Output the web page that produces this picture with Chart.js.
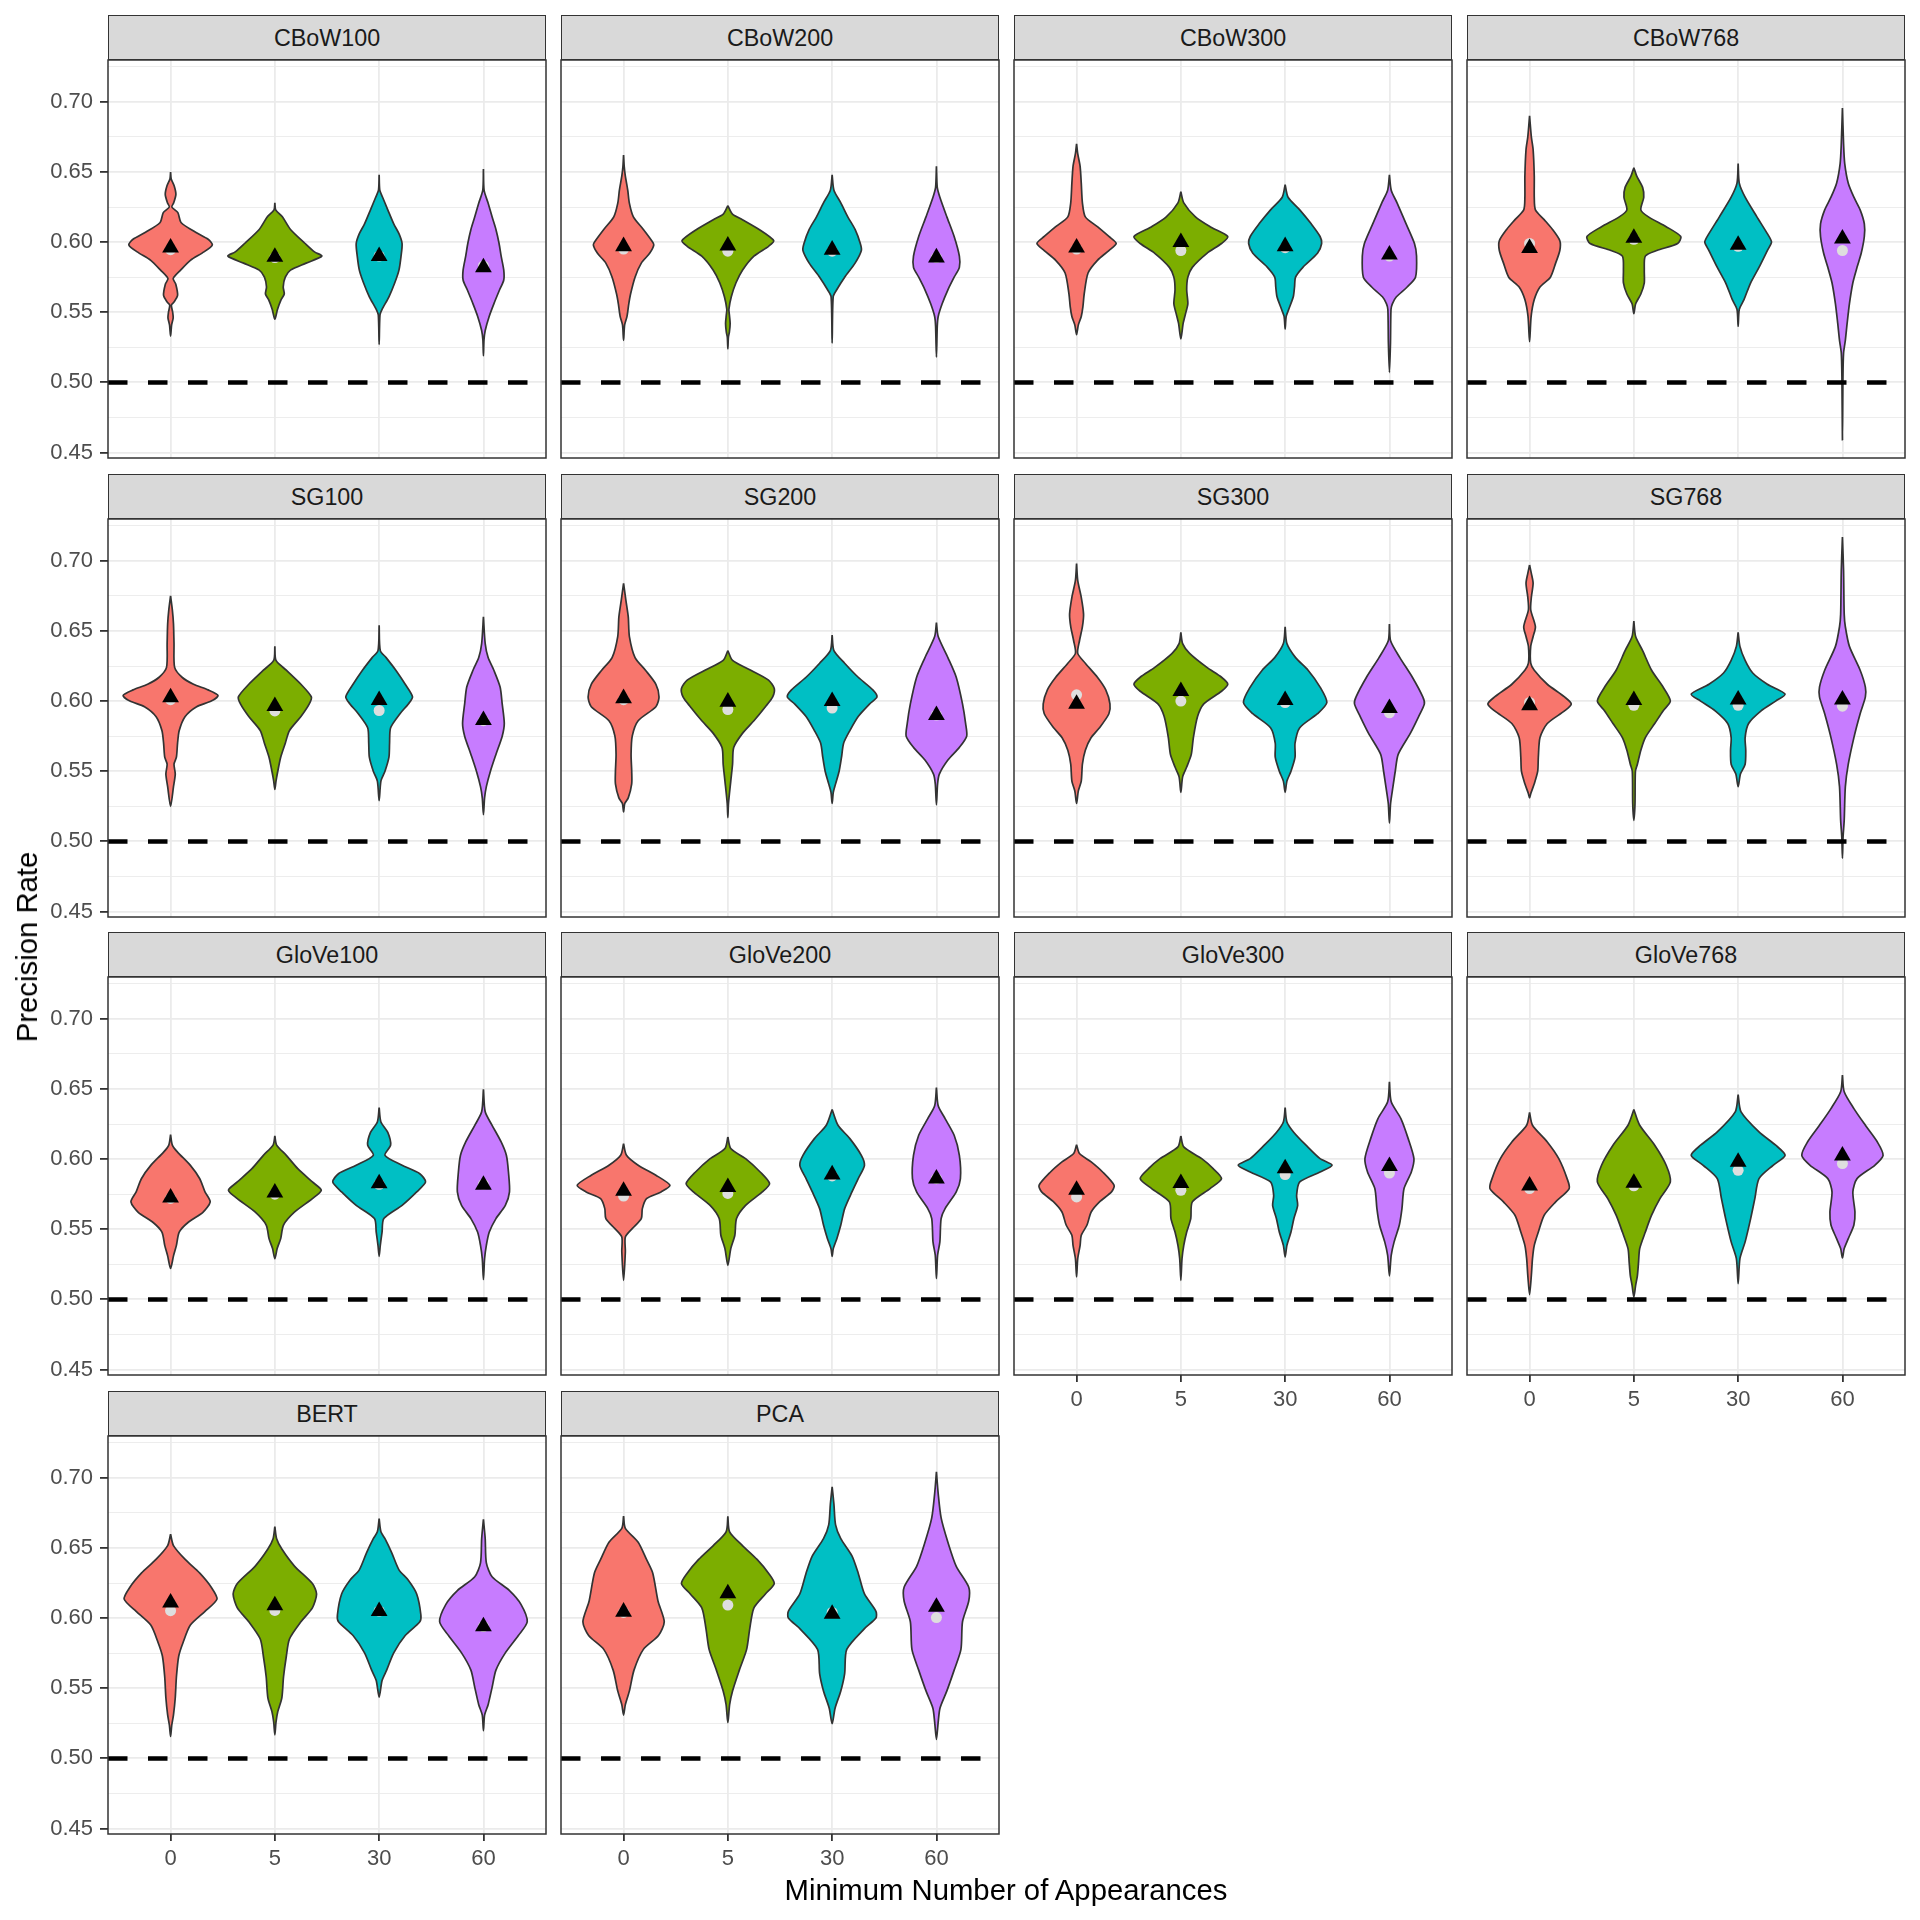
<!DOCTYPE html>
<html>
<head>
<meta charset="utf-8">
<script src="https://cdn.jsdelivr.net/npm/chart.js@4.4.1/dist/chart.umd.min.js"></script>
<style>
html, body { margin: 0; padding: 0; background: #fff; }
#page { position: relative; width: 1920px; height: 1920px; overflow: hidden; font-family: "Liberation Sans", Arial, sans-serif; }
#page canvas { position: absolute; }
.strip { position: absolute; box-sizing: border-box; background: #D9D9D9; border: 1.5px solid #333; color: #1A1A1A;
  font-size: 23.3px; display: flex; align-items: center; justify-content: center; padding-top: 2px; }
.axis-title { position: absolute; color: #000; font-size: 29.3px; white-space: nowrap; transform: translate(-50%, -50%); }
</style>
</head>
<body>
<div id="page"></div>
<script>
const panelNames = ["CBoW100", "CBoW200", "CBoW300", "CBoW768", "SG100", "SG200", "SG300", "SG768",
    "GloVe100", "GloVe200", "GloVe300", "GloVe768", "BERT", "PCA"];
const xLabels = ["0", "5", "30", "60"];
const yMajor = [0.45, 0.50, 0.55, 0.60, 0.65, 0.70];
const yMinor = [0.475, 0.525, 0.575, 0.625, 0.675, 0.725];
const yRange = [0.4461, 0.7298];
const chanceLine = 0.5;

// mean (triangle) and median (grey dot) per panel, categories 0/5/30/60
const meanRate = [
    [0.596, 0.5895, 0.590, 0.582], [0.597, 0.5975, 0.5945, 0.589], [0.596, 0.600, 0.597, 0.591], [0.5957, 0.603, 0.598, 0.6024],
    [0.6026, 0.5964, 0.6007, 0.5864], [0.602, 0.5995, 0.600, 0.590], [0.598, 0.607, 0.6007, 0.595], [0.597, 0.6007, 0.601, 0.601],
    [0.5725, 0.576, 0.5827, 0.5816], [0.5773, 0.580, 0.589, 0.586], [0.578, 0.5828, 0.5934, 0.595], [0.581, 0.583, 0.598, 0.6025],
    [0.611, 0.609, 0.605, 0.594], [0.6045, 0.6176, 0.603, 0.608]
];
const medianRate = [
    [0.5946, 0.589, 0.590, 0.583], [0.595, 0.5935, 0.5935, 0.589], [0.595, 0.594, 0.596, 0.590], [0.599, 0.602, 0.597, 0.594],
    [0.601, 0.593, 0.5933, 0.586], [0.601, 0.594, 0.595, 0.590], [0.6045, 0.600, 0.599, 0.5917], [0.599, 0.597, 0.597, 0.5964],
    [0.572, 0.575, 0.582, 0.582], [0.5737, 0.5755, 0.588, 0.586], [0.573, 0.5778, 0.589, 0.590], [0.579, 0.581, 0.592, 0.5968],
    [0.6053, 0.6055, 0.605, 0.594], [0.604, 0.6093, 0.604, 0.6004]
];

// violin outlines: [precision rate, half width] from top tip to bottom tip
const shapeCBoW100 = [
    [[0.650,0],[0.645,0.006],[0.640,0.035],[0.634,0.051],[0.628,0.03],[0.625,0.012],[0.621,0.07],[0.614,0.10],[0.607,0.24],[0.602,0.36],[0.598,0.40],[0.593,0.32],[0.587,0.19],[0.580,0.096],[0.574,0.025],[0.570,0.05],[0.562,0.067],[0.557,0.03],[0.555,0.008],[0.550,0.02],[0.546,0.025],[0.541,0.01],[0.533,0]],
    [[0.628,0],[0.623,0.008],[0.618,0.072],[0.609,0.15],[0.599,0.29],[0.593,0.38],[0.590,0.45],[0.585,0.30],[0.580,0.15],[0.575,0.10],[0.568,0.08],[0.563,0.09],[0.559,0.06],[0.552,0.025],[0.545,0]],
    [[0.648,0],[0.637,0.006],[0.632,0.033],[0.623,0.083],[0.613,0.14],[0.606,0.19],[0.599,0.22],[0.590,0.21],[0.580,0.19],[0.571,0.15],[0.561,0.094],[0.552,0.028],[0.548,0.008],[0.527,0]],
    [[0.652,0],[0.637,0.006],[0.628,0.044],[0.618,0.083],[0.609,0.12],[0.599,0.15],[0.590,0.17],[0.580,0.195],[0.573,0.195],[0.566,0.155],[0.556,0.10],[0.547,0.055],[0.537,0.017],[0.530,0.005],[0.519,0]]
];
const shapeCBoW200 = [
    [[0.662,0],[0.654,0.006],[0.647,0.017],[0.637,0.04],[0.628,0.055],[0.618,0.094],[0.609,0.19],[0.601,0.27],[0.598,0.29],[0.592,0.25],[0.585,0.17],[0.575,0.11],[0.563,0.067],[0.556,0.05],[0.547,0.033],[0.541,0.01],[0.530,0]],
    [[0.626,0],[0.620,0.044],[0.616,0.14],[0.609,0.30],[0.601,0.44],[0.597,0.39],[0.590,0.25],[0.580,0.14],[0.571,0.078],[0.561,0.033],[0.552,0.01],[0.548,0.015],[0.542,0.022],[0.536,0.015],[0.532,0.005],[0.524,0]],
    [[0.648,0],[0.637,0.017],[0.628,0.083],[0.618,0.15],[0.609,0.22],[0.599,0.27],[0.594,0.28],[0.585,0.22],[0.575,0.12],[0.566,0.044],[0.561,0.01],[0.528,0]],
    [[0.654,0],[0.639,0.008],[0.632,0.033],[0.618,0.10],[0.604,0.17],[0.590,0.22],[0.582,0.22],[0.575,0.17],[0.566,0.11],[0.556,0.055],[0.547,0.017],[0.540,0.008],[0.518,0]]
];
const shapeCBoW300 = [
    [[0.670,0],[0.663,0.011],[0.654,0.034],[0.642,0.045],[0.628,0.056],[0.618,0.084],[0.611,0.20],[0.604,0.31],[0.599,0.38],[0.594,0.31],[0.587,0.20],[0.578,0.11],[0.563,0.073],[0.554,0.061],[0.547,0.045],[0.541,0.017],[0.534,0]],
    [[0.636,0],[0.628,0.028],[0.618,0.14],[0.611,0.28],[0.604,0.45],[0.599,0.39],[0.592,0.25],[0.582,0.11],[0.575,0.067],[0.566,0.056],[0.556,0.067],[0.549,0.045],[0.542,0.022],[0.531,0]],
    [[0.641,0],[0.632,0.028],[0.623,0.14],[0.613,0.25],[0.604,0.335],[0.599,0.35],[0.592,0.31],[0.582,0.17],[0.575,0.10],[0.568,0.09],[0.561,0.078],[0.552,0.034],[0.547,0.01],[0.538,0]],
    [[0.648,0],[0.637,0.017],[0.628,0.073],[0.613,0.16],[0.599,0.24],[0.590,0.26],[0.575,0.25],[0.568,0.17],[0.561,0.067],[0.556,0.028],[0.552,0.015],[0.528,0.01],[0.507,0]]
];
const shapeCBoW768 = [
    [[0.690,0],[0.675,0.017],[0.666,0.034],[0.647,0.045],[0.632,0.045],[0.623,0.056],[0.616,0.14],[0.609,0.22],[0.601,0.29],[0.594,0.29],[0.585,0.25],[0.575,0.20],[0.568,0.10],[0.559,0.045],[0.547,0.015],[0.529,0]],
    [[0.653,0],[0.647,0.028],[0.639,0.084],[0.632,0.095],[0.623,0.067],[0.618,0.14],[0.611,0.31],[0.604,0.45],[0.599,0.42],[0.594,0.22],[0.590,0.11],[0.580,0.10],[0.571,0.10],[0.563,0.067],[0.556,0.017],[0.549,0]],
    [[0.656,0],[0.642,0.011],[0.632,0.067],[0.618,0.18],[0.606,0.28],[0.600,0.32],[0.594,0.28],[0.582,0.20],[0.571,0.12],[0.559,0.056],[0.552,0.011],[0.540,0]],
    [[0.6955,0],[0.670,0.011],[0.656,0.022],[0.642,0.056],[0.632,0.11],[0.623,0.17],[0.613,0.21],[0.604,0.21],[0.592,0.18],[0.582,0.14],[0.571,0.10],[0.556,0.067],[0.542,0.045],[0.530,0.028],[0.521,0.011],[0.504,0.005],[0.459,0]]
];
const shapeSG100 = [
    [[0.675,0],[0.665,0.017],[0.655,0.028],[0.641,0.033],[0.624,0.039],[0.617,0.11],[0.612,0.22],[0.608,0.36],[0.604,0.455],[0.600,0.39],[0.596,0.25],[0.589,0.14],[0.579,0.083],[0.570,0.067],[0.560,0.056],[0.555,0.033],[0.548,0.045],[0.539,0.028],[0.525,0]],
    [[0.639,0],[0.629,0.011],[0.622,0.11],[0.612,0.25],[0.603,0.35],[0.598,0.33],[0.589,0.25],[0.579,0.14],[0.570,0.10],[0.560,0.056],[0.550,0.028],[0.543,0.011],[0.537,0]],
    [[0.654,0],[0.636,0.011],[0.631,0.067],[0.622,0.16],[0.612,0.25],[0.603,0.32],[0.598,0.28],[0.591,0.20],[0.581,0.11],[0.570,0.10],[0.560,0.094],[0.550,0.056],[0.543,0.017],[0.529,0]],
    [[0.660,0],[0.641,0.017],[0.631,0.045],[0.622,0.10],[0.610,0.16],[0.598,0.18],[0.584,0.20],[0.575,0.18],[0.562,0.12],[0.550,0.067],[0.539,0.028],[0.531,0.011],[0.519,0]]
];
const shapeSG200 = [
    [[0.684,0],[0.672,0.022],[0.660,0.045],[0.646,0.056],[0.631,0.11],[0.622,0.21],[0.612,0.31],[0.603,0.34],[0.596,0.31],[0.586,0.14],[0.575,0.083],[0.562,0.072],[0.550,0.078],[0.541,0.078],[0.531,0.045],[0.527,0.011],[0.521,0]],
    [[0.636,0],[0.629,0.045],[0.622,0.22],[0.615,0.39],[0.609,0.445],[0.603,0.43],[0.596,0.36],[0.586,0.25],[0.577,0.14],[0.567,0.056],[0.555,0.045],[0.543,0.028],[0.527,0.006],[0.517,0]],
    [[0.647,0],[0.636,0.017],[0.627,0.12],[0.617,0.25],[0.608,0.39],[0.603,0.43],[0.598,0.36],[0.589,0.25],[0.579,0.17],[0.570,0.11],[0.560,0.09],[0.550,0.067],[0.541,0.033],[0.535,0.011],[0.527,0]],
    [[0.656,0],[0.646,0.017],[0.631,0.11],[0.617,0.19],[0.598,0.25],[0.584,0.28],[0.575,0.29],[0.567,0.22],[0.558,0.11],[0.548,0.028],[0.541,0.011],[0.526,0]]
];
const shapeSG300 = [
    [[0.698,0],[0.686,0.011],[0.674,0.045],[0.662,0.067],[0.653,0.056],[0.643,0.028],[0.634,0.011],[0.627,0.084],[0.617,0.20],[0.608,0.28],[0.598,0.32],[0.591,0.31],[0.581,0.22],[0.574,0.14],[0.565,0.084],[0.555,0.056],[0.543,0.045],[0.536,0.017],[0.527,0]],
    [[0.649,0],[0.641,0.017],[0.634,0.084],[0.624,0.25],[0.617,0.39],[0.612,0.45],[0.607,0.39],[0.598,0.22],[0.589,0.16],[0.574,0.12],[0.562,0.10],[0.553,0.056],[0.546,0.017],[0.535,0]],
    [[0.653,0],[0.641,0.017],[0.631,0.10],[0.622,0.22],[0.610,0.335],[0.599,0.40],[0.591,0.31],[0.581,0.14],[0.570,0.095],[0.560,0.095],[0.550,0.056],[0.543,0.017],[0.535,0]],
    [[0.655,0],[0.643,0.011],[0.631,0.10],[0.617,0.22],[0.603,0.32],[0.598,0.335],[0.589,0.28],[0.577,0.20],[0.562,0.084],[0.550,0.056],[0.539,0.034],[0.527,0.011],[0.513,0]]
];
const shapeSG768 = [
    [[0.697,0],[0.691,0.017],[0.684,0.034],[0.674,0.017],[0.665,0.011],[0.653,0.056],[0.646,0.034],[0.639,0.011],[0.627,0.011],[0.622,0.045],[0.612,0.17],[0.603,0.335],[0.598,0.40],[0.593,0.335],[0.584,0.17],[0.574,0.10],[0.560,0.084],[0.550,0.078],[0.541,0.045],[0.534,0.011],[0.531,0]],
    [[0.657,0],[0.646,0.017],[0.636,0.084],[0.622,0.17],[0.610,0.28],[0.600,0.35],[0.593,0.28],[0.584,0.20],[0.574,0.11],[0.565,0.067],[0.555,0.034],[0.550,0.015],[0.527,0.011],[0.515,0]],
    [[0.649,0],[0.639,0.017],[0.629,0.067],[0.620,0.14],[0.612,0.28],[0.605,0.45],[0.600,0.36],[0.593,0.22],[0.584,0.10],[0.574,0.067],[0.565,0.073],[0.555,0.067],[0.548,0.022],[0.539,0]],
    [[0.717,0],[0.693,0.011],[0.662,0.017],[0.653,0.028],[0.639,0.067],[0.622,0.17],[0.610,0.22],[0.603,0.22],[0.591,0.17],[0.574,0.11],[0.555,0.056],[0.539,0.028],[0.515,0.017],[0.503,0.006],[0.488,0]]
];
const shapeGloVe100 = [
    [[0.6175,0],[0.610,0.017],[0.605,0.067],[0.5955,0.19],[0.586,0.28],[0.5766,0.33],[0.5695,0.38],[0.562,0.31],[0.555,0.17],[0.548,0.083],[0.5385,0.056],[0.531,0.028],[0.522,0]],
    [[0.6165,0],[0.610,0.017],[0.6027,0.11],[0.5932,0.22],[0.5837,0.36],[0.5778,0.445],[0.5718,0.36],[0.5623,0.19],[0.553,0.083],[0.5433,0.056],[0.5362,0.022],[0.529,0]],
    [[0.6367,0],[0.6265,0.017],[0.619,0.083],[0.6099,0.11],[0.6027,0.056],[0.5956,0.22],[0.5896,0.39],[0.5837,0.445],[0.5766,0.36],[0.567,0.22],[0.5576,0.045],[0.548,0.028],[0.5385,0.011],[0.5307,0]],
    [[0.6498,0],[0.6337,0.017],[0.6241,0.083],[0.6122,0.17],[0.6027,0.22],[0.5908,0.24],[0.5766,0.25],[0.567,0.21],[0.5576,0.12],[0.548,0.056],[0.5385,0.028],[0.529,0.011],[0.514,0]]
];
const shapeGloVe200 = [
    [[0.611,0],[0.6027,0.028],[0.5956,0.14],[0.5885,0.31],[0.5813,0.445],[0.5766,0.36],[0.5718,0.22],[0.5647,0.18],[0.5576,0.17],[0.5504,0.083],[0.5445,0.017],[0.534,0.017],[0.5135,0]],
    [[0.6158,0],[0.6075,0.028],[0.6003,0.17],[0.5908,0.31],[0.5825,0.40],[0.5766,0.33],[0.567,0.17],[0.5576,0.083],[0.5457,0.067],[0.5362,0.028],[0.5243,0]],
    [[0.6353,0],[0.6241,0.056],[0.6146,0.17],[0.6027,0.28],[0.5956,0.31],[0.5861,0.25],[0.5766,0.19],[0.5647,0.12],[0.553,0.083],[0.5433,0.045],[0.5362,0.011],[0.5307,0]],
    [[0.651,0],[0.638,0.017],[0.6289,0.083],[0.617,0.17],[0.6027,0.22],[0.5861,0.23],[0.5766,0.19],[0.5647,0.083],[0.5576,0.045],[0.541,0.033],[0.5314,0.011],[0.5148,0]]
];
const shapeGloVe300 = [
    [[0.6103,0],[0.604,0.028],[0.598,0.14],[0.5908,0.25],[0.5813,0.36],[0.5766,0.335],[0.5695,0.22],[0.5623,0.14],[0.553,0.10],[0.5457,0.045],[0.5385,0.034],[0.529,0.011],[0.516,0]],
    [[0.6165,0],[0.6087,0.028],[0.6003,0.20],[0.5932,0.31],[0.5861,0.39],[0.579,0.28],[0.5695,0.11],[0.5576,0.095],[0.548,0.056],[0.5385,0.028],[0.529,0.011],[0.5135,0]],
    [[0.6367,0],[0.6265,0.017],[0.619,0.084],[0.6099,0.20],[0.6003,0.335],[0.5956,0.45],[0.5908,0.335],[0.5837,0.14],[0.5742,0.11],[0.567,0.12],[0.5576,0.084],[0.548,0.056],[0.5385,0.017],[0.5302,0]],
    [[0.655,0],[0.6408,0.017],[0.6289,0.11],[0.6146,0.18],[0.6003,0.235],[0.5908,0.21],[0.579,0.14],[0.5647,0.12],[0.553,0.095],[0.541,0.045],[0.5314,0.017],[0.5167,0]]
];
const shapeGloVe768 = [
    [[0.6332,0],[0.6241,0.028],[0.6122,0.17],[0.6003,0.28],[0.5861,0.36],[0.579,0.38],[0.5695,0.25],[0.56,0.14],[0.548,0.084],[0.5385,0.045],[0.529,0.028],[0.517,0.017],[0.5033,0]],
    [[0.6353,0],[0.6241,0.056],[0.6099,0.20],[0.5956,0.31],[0.5837,0.35],[0.5718,0.25],[0.56,0.17],[0.548,0.11],[0.5362,0.056],[0.5266,0.045],[0.517,0.034],[0.51,0.017],[0.5017,0]],
    [[0.646,0],[0.6337,0.028],[0.6194,0.20],[0.6099,0.36],[0.6027,0.45],[0.5956,0.335],[0.5861,0.20],[0.5718,0.16],[0.5576,0.12],[0.541,0.067],[0.529,0.017],[0.5112,0]],
    [[0.6598,0],[0.648,0.017],[0.636,0.11],[0.6241,0.22],[0.6122,0.335],[0.6027,0.39],[0.5956,0.31],[0.5861,0.14],[0.5766,0.10],[0.5623,0.12],[0.553,0.11],[0.5433,0.056],[0.5362,0.017],[0.5295,0]]
];
const shapeBERT = [
    [[0.6598,0],[0.6517,0.028],[0.6418,0.14],[0.632,0.28],[0.622,0.39],[0.6135,0.445],[0.6048,0.33],[0.595,0.19],[0.5826,0.12],[0.5728,0.078],[0.558,0.056],[0.5432,0.045],[0.531,0.028],[0.5235,0.011],[0.5156,0]],
    [[0.6652,0],[0.6566,0.017],[0.6492,0.067],[0.6369,0.19],[0.6246,0.36],[0.6172,0.40],[0.6073,0.36],[0.5974,0.25],[0.5851,0.14],[0.5728,0.11],[0.558,0.083],[0.5432,0.067],[0.5333,0.028],[0.5259,0.011],[0.5168,0]],
    [[0.6709,0],[0.6615,0.017],[0.6566,0.056],[0.6467,0.12],[0.6344,0.19],[0.627,0.28],[0.6172,0.36],[0.6024,0.40],[0.5974,0.39],[0.5876,0.25],[0.5752,0.14],[0.5629,0.072],[0.5555,0.028],[0.5437,0]],
    [[0.6704,0],[0.6566,0.017],[0.6394,0.028],[0.6295,0.083],[0.6196,0.25],[0.6098,0.36],[0.5974,0.42],[0.5876,0.335],[0.5752,0.21],[0.5629,0.12],[0.5506,0.083],[0.5383,0.045],[0.5309,0.011],[0.5198,0]]
];
const shapePCA = [
    [[0.6726,0],[0.664,0.017],[0.6541,0.14],[0.6418,0.22],[0.632,0.28],[0.6122,0.33],[0.5974,0.39],[0.5876,0.335],[0.5777,0.19],[0.5629,0.10],[0.5481,0.056],[0.5383,0.017],[0.5309,0]],
    [[0.6726,0],[0.6615,0.017],[0.6517,0.14],[0.6418,0.28],[0.632,0.39],[0.6246,0.445],[0.6172,0.36],[0.6073,0.25],[0.5925,0.21],[0.5777,0.18],[0.5629,0.11],[0.5481,0.045],[0.5383,0.017],[0.5254,0]],
    [[0.6936,0],[0.6813,0.017],[0.6665,0.033],[0.6566,0.083],[0.6443,0.19],[0.632,0.25],[0.6172,0.31],[0.6048,0.42],[0.600,0.42],[0.5925,0.31],[0.5777,0.14],[0.5605,0.12],[0.5481,0.083],[0.5358,0.028],[0.5247,0]],
    [[0.7042,0],[0.6887,0.017],[0.6714,0.045],[0.6541,0.11],[0.6369,0.19],[0.622,0.31],[0.6122,0.31],[0.5974,0.25],[0.5777,0.235],[0.5629,0.17],[0.5481,0.10],[0.5358,0.034],[0.5259,0.017],[0.5136,0]]
];
const violinShapes = [shapeCBoW100, shapeCBoW200, shapeCBoW300, shapeCBoW768, shapeSG100, shapeSG200, shapeSG300, shapeSG768,
    shapeGloVe100, shapeGloVe200, shapeGloVe300, shapeGloVe768, shapeBERT, shapePCA];

const fillColors = ["#F8766D", "#7CAE00", "#00BFC4", "#C77CFF"];
const panelLeft = [108, 561, 1014, 1467];
const panelTop = [60, 519, 977, 1436];
const PANEL_W = 438, PANEL_H = 398, STRIP_H = 45.5;

Chart.defaults.font.family = '"Liberation Sans", Arial, sans-serif';

const page = document.getElementById("page");
const isMajor = v => yMajor.some(m => Math.abs(m - v) < 1e-6);

// outline of one violin, going down the right side and back up the left
function violinPoints(profile, center) {
    const right = profile.map(([v, w]) => ({ x: center + w, y: v }));
    const left = profile.slice(1, -1).reverse().map(([v, w]) => ({ x: center - w, y: v }));
    return right.concat(left, [right[0]]);
}

const panelBorder = {
    id: "panelBorder",
    afterDatasetsDraw(chart) {
        const { ctx, chartArea: a } = chart;
        ctx.save();
        ctx.strokeStyle = "#333333";
        ctx.lineWidth = 1.5;
        ctx.strokeRect(a.left, a.top, a.right - a.left, a.bottom - a.top);
        ctx.restore();
    }
};

panelNames.forEach((name, i) => {
    const row = Math.floor(i / 4), col = i % 4;
    const hasX = row === 3 || (row === 2 && col >= 2);
    const hasY = col === 0;
    const padL = hasY ? 108 : 2, padR = 2, padT = 22, padB = hasX ? 60 : 22;

    const canvas = document.createElement("canvas");
    canvas.width = padL + PANEL_W + padR;
    canvas.height = padT + PANEL_H + padB;
    canvas.style.left = (panelLeft[col] - padL) + "px";
    canvas.style.top = (panelTop[row] - padT) + "px";
    page.appendChild(canvas);

    const datasets = violinShapes[i].map((shape, k) => ({
        data: violinPoints(shape, k + 1),
        showLine: true,
        fill: "shape",
        backgroundColor: fillColors[k],
        borderColor: "#333333",
        borderWidth: 1.7,
        borderJoinStyle: "round",
        tension: 0.25,
        pointRadius: 0,
        order: 3
    }));
    datasets.push({
        data: [{ x: 0.4, y: chanceLine }, { x: 4.6, y: chanceLine }],
        showLine: true,
        fill: false,
        borderColor: "#000000",
        borderWidth: 4.5,
        borderDash: [19.5, 20.5],
        borderCapStyle: "butt",
        pointRadius: 0,
        order: 2
    });
    datasets.push({
        data: medianRate[i].map((v, k) => ({ x: k + 1, y: v })),
        pointStyle: "circle",
        pointRadius: 5.5,
        backgroundColor: "#DEDEDE",
        borderWidth: 0,
        order: 1
    });
    datasets.push({
        data: meanRate[i].map((v, k) => ({ x: k + 1, y: v })),
        pointStyle: "triangle",
        pointRadius: 9.7,
        backgroundColor: "#000000",
        borderWidth: 0,
        order: 0
    });

    new Chart(canvas, {
        type: "scatter",
        data: { datasets },
        plugins: [panelBorder],
        options: {
            responsive: false,
            animation: false,
            events: [],
            layout: {
                autoPadding: false,
                padding: { left: hasY ? 0 : 2, right: padR, top: padT, bottom: hasX ? 0 : padB }
            },
            plugins: { legend: { display: false }, tooltip: { enabled: false } },
            scales: {
                x: {
                    type: "linear",
                    min: 0.4,
                    max: 4.6,
                    afterBuildTicks: s => { s.ticks = xLabels.map((_, k) => ({ value: k + 1 })); },
                    afterFit: s => { s.height = hasX ? 60 : 0; },
                    border: { display: false },
                    grid: { color: "#EBEBEB", lineWidth: 1.8, drawTicks: hasX, tickLength: 7, tickColor: "#333333", tickWidth: 1.8 },
                    ticks: {
                        display: hasX, autoSkip: false, maxRotation: 0, padding: 4.5,
                        color: "#4D4D4D", font: { size: 22 },
                        callback: (v, idx) => xLabels[idx]
                    }
                },
                y: {
                    type: "linear",
                    min: yRange[0],
                    max: yRange[1],
                    afterBuildTicks: s => { s.ticks = yMajor.concat(yMinor).sort((a, b) => a - b).map(v => ({ value: v })); },
                    afterFit: s => { s.width = hasY ? 108 : 0; },
                    border: { display: false },
                    grid: {
                        color: "#EBEBEB",
                        lineWidth: c => isMajor(c.tick.value) ? 1.8 : 0.9,
                        drawTicks: hasY,
                        tickLength: 8,
                        tickWidth: 1.8,
                        tickColor: c => isMajor(c.tick.value) ? "#333333" : "rgba(0,0,0,0)"
                    },
                    ticks: {
                        display: hasY, autoSkip: false, padding: 7,
                        color: "#4D4D4D", font: { size: 22 },
                        callback: v => isMajor(v) ? v.toFixed(2) : ""
                    }
                }
            }
        }
    });

    const strip = document.createElement("div");
    strip.className = "strip";
    strip.textContent = name;
    strip.style.left = panelLeft[col] + "px";
    strip.style.top = (panelTop[row] - STRIP_H) + "px";
    strip.style.width = PANEL_W + "px";
    strip.style.height = STRIP_H + "px";
    page.appendChild(strip);
});

const yTitle = document.createElement("div");
yTitle.className = "axis-title";
yTitle.textContent = "Precision Rate";
yTitle.style.left = "27px";
yTitle.style.top = "947px";
yTitle.style.transform = "translate(-50%, -50%) rotate(-90deg)";
page.appendChild(yTitle);

const xTitle = document.createElement("div");
xTitle.className = "axis-title";
xTitle.textContent = "Minimum Number of Appearances";
xTitle.style.left = "1006px";
xTitle.style.top = "1890px";
page.appendChild(xTitle);
</script>
</body>
</html>
